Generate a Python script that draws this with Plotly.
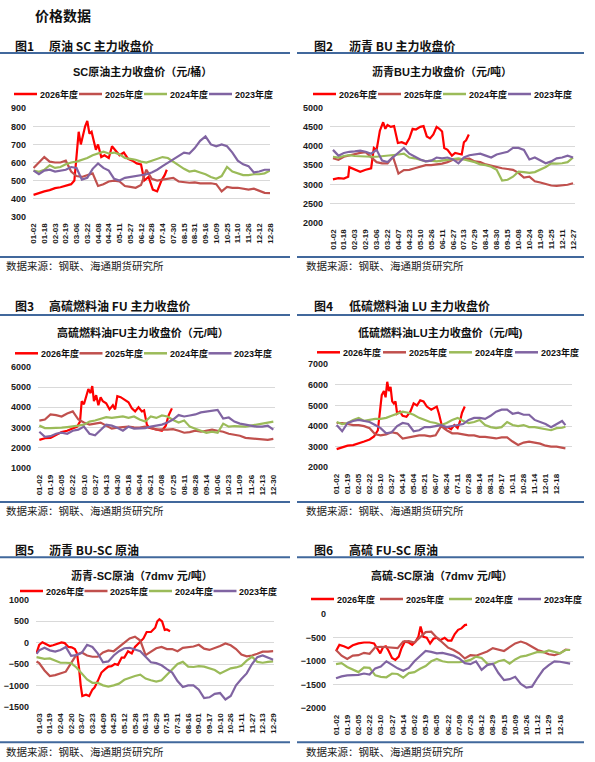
import plotly.graph_objects as go

W, H = 595, 762

years = ["2026年度", "2025年度", "2024年度", "2023年度"]
colors = ["#FF0000", "#C0504D", "#9BBB59", "#8064A2"]
source = "数据来源：钢联、海通期货研究所"

# ---------- 图1 SC原油 (元/桶) ----------
sc_ticks = ["01-02", "01-18", "02-03", "02-19", "03-06", "03-22", "04-08", "04-24", "05-11", "05-27", "06-12",
            "06-28", "07-14", "07-30", "08-15", "08-31", "09-16", "10-09", "10-25", "11-10", "11-26", "12-12", "12-28"]
sc_t = [i / 2 for i in range(45)]
sc_t26 = [0, 0.5, 1, 1.5, 2, 2.5, 3, 3.5, 3.8, 4.0, 4.2, 4.4, 4.6, 4.8, 5.0, 5.2, 5.4, 5.6, 5.8, 6.0, 6.3, 6.6, 7.0,
          7.3, 7.6, 8.0, 8.4, 8.8, 9.2, 9.6, 10.0, 10.3, 10.7, 11.1, 11.5, 11.9, 12.2, 12.4]
sc_v26 = [421, 432, 440, 447, 458, 463, 470, 480, 500, 650, 770, 700, 760, 800, 830, 760, 770, 710, 670, 700, 630, 640,
          625, 690, 670, 640, 655, 620, 610, 595, 590, 500, 520, 450, 440, 500, 530, 560]
sc_v25 = [570, 600, 630, 605, 600, 600, 610, 550, 525, 520, 530, 540, 470, 480, 495, 500, 495, 470, 465, 460, 475, 560,
          510, 500, 505, 510, 515, 495, 490, 488, 490, 485, 485, 485, 480, 440, 465, 460, 460, 455, 450, 455, 445, 432, 430]
sc_v24 = [555, 548, 560, 585, 570, 575, 590, 600, 605, 615, 625, 640, 650, 660, 650, 655, 645, 625, 620, 615, 605, 600,
          610, 620, 630, 625, 605, 590, 565, 550, 555, 545, 535, 520, 510, 525, 575, 550, 540, 530, 530, 535, 535, 540, 555]
sc_v23 = [555, 535, 555, 560, 550, 555, 560, 575, 570, 505, 515, 565, 595, 570, 555, 510, 500, 515, 520, 525, 530, 535,
          545, 560, 580, 600, 620, 640, 655, 650, 680, 720, 745, 700, 690, 700, 690, 655, 610, 590, 580, 545, 550, 560, 560]

# ---------- 图2 沥青BU (元/吨) ----------
bu_ticks = ["01-02", "01-18", "02-03", "02-19", "03-06", "03-22", "04-07", "04-23", "05-10", "05-26", "06-11",
            "06-27", "07-13", "07-29", "08-14", "08-30", "09-15", "10-08", "10-24", "11-09", "11-25", "12-11", "12-27"]
bu_t = [i / 2 for i in range(45)]
bu_t26 = [0, 0.5, 1, 1.4, 1.5, 2, 2.5, 3, 3.5, 3.75, 4.0, 4.3, 4.6, 4.8, 5.0, 5.3, 5.6, 5.95, 6.3, 6.7, 7.0, 7.3,
          7.6, 8.0, 8.3, 8.6, 8.9, 9.2, 9.5, 9.75, 10.0, 10.2, 10.5, 10.9, 11.2, 11.5, 11.8, 12.0, 12.2, 12.45]
bu_v26 = [3130, 3160, 3150, 3200, 3450, 3380, 3330, 3380, 3420, 3950, 3900, 4400, 4620, 4450, 4550, 4500, 4520, 4080,
          4100, 4050, 4200, 4450, 4430, 4500, 4520, 4250, 4200, 4300, 4500, 4450, 4380, 3950, 3900, 3750, 3820, 3800,
          3780, 4100, 4150, 4300]
bu_v25 = [3680, 3640, 3720, 3760, 3800, 3820, 3840, 3700, 3580, 3550, 3550, 3720, 3280, 3370, 3380, 3420, 3460, 3500,
          3500, 3520, 3540, 3580, 3640, 3650, 3660, 3670, 3600, 3580, 3520, 3480, 3460, 3420, 3400, 3380, 3300, 3180,
          3200, 3080, 3050, 3000, 2970, 2960, 2970, 2990, 3030]
bu_v24 = [3720, 3700, 3740, 3760, 3740, 3730, 3720, 3720, 3720, 3730, 3750, 3760, 3780, 3800, 3700, 3680, 3640, 3600,
          3620, 3600, 3620, 3640, 3650, 3680, 3650, 3620, 3580, 3520, 3500, 3460, 3380, 3100, 3120, 3200, 3330, 3320,
          3300, 3320, 3380, 3450, 3550, 3540, 3550, 3580, 3700]
bu_v23 = [3900, 3750, 3820, 3850, 3860, 3880, 3850, 3800, 3900, 3620, 3580, 3700, 3820, 3950, 3800, 3720, 3650, 3600,
          3620, 3700, 3680, 3700, 3650, 3550, 3700, 3760, 3780, 3800, 3750, 3700, 3780, 3820, 3850, 3950, 3950, 3900,
          3650, 3700, 3620, 3550, 3600, 3680, 3700, 3750, 3700]

# ---------- 图3 高硫燃料油FU (元/吨) ----------
fu_ticks = ["01-02", "01-19", "02-05", "02-22", "03-10", "03-27", "04-13", "04-30", "05-18", "06-04", "06-21",
            "07-08", "07-25", "08-11", "08-28", "09-14", "10-06", "10-23", "11-09", "11-26", "12-13", "12-30"]
fu_t = [i / 2 for i in range(43)]
fu_t26 = [0, 0.5, 1, 1.5, 2, 2.5, 3, 3.4, 3.65, 3.8, 4.0, 4.2, 4.4, 4.6, 4.75, 4.9, 5.1, 5.3, 5.5, 5.7, 6.0, 6.3,
          6.6, 6.8, 7.0, 7.3, 7.6, 8.0, 8.3, 8.6, 8.9, 9.2, 9.4, 9.65, 9.85, 10.2, 10.6, 11.0, 11.35, 11.6, 11.9]
fu_v26 = [2400, 2480, 2500, 2650, 2780, 2850, 2950, 3050, 3300, 4300, 4150, 4600, 4900, 4700, 5050, 4300, 4600, 4100,
          4500, 4300, 4200, 3900, 4100, 3900, 4550, 4500, 4400, 4250, 3950, 3800, 4000, 3800, 3850, 3150, 3000, 2950,
          2900, 2850, 3100, 3600, 3950]
fu_v25 = [3350, 3400, 3650, 3620, 3550, 3700, 3800, 3400, 3250, 3150, 3200, 3250, 3100, 2950, 3000, 3020, 3050, 3020,
          3000, 3050, 3000, 2900, 2920, 2900, 2930, 2850, 2750, 2780, 2850, 2800, 2850, 2900, 2850, 2800, 2700, 2650,
          2600, 2500, 2480, 2450, 2450, 2400, 2450]
fu_v24 = [3100, 2980, 2980, 2980, 3000, 3030, 3050, 3100, 3150, 3300, 3350, 3450, 3520, 3480, 3500, 3550, 3480, 3550,
          3400, 3300, 3550, 3480, 3600, 3550, 3380, 3250, 3350, 3050, 2950, 2850, 2750, 2800, 2750, 3200, 3050, 3080,
          3050, 3050, 3100, 3150, 3200, 3250, 3300]
fu_v23 = [2800, 2550, 2580, 2700, 2750, 2700, 2850, 2900, 3050, 2700, 2620, 2900, 3150, 3100, 3000, 2850, 3050, 2950,
          2950, 2980, 3050, 3100, 3150, 3250, 3400, 3620, 3550, 3600, 3650, 3750, 3800, 3850, 3870, 3450, 3500, 3300,
          3200, 3150, 3100, 3050, 3050, 3100, 2900]

# ---------- 图4 低硫燃料油LU (元/吨) ----------
lu_ticks = ["01-02", "01-19", "02-05", "02-22", "03-10", "03-27", "04-14", "05-04", "05-21", "06-07", "06-24",
            "07-11", "07-28", "08-14", "08-31", "09-17", "10-11", "10-28", "11-14", "12-01", "12-18"]
lu_t = [i / 2 for i in range(42)] + [20.8]
lu_t26 = [0, 0.5, 1, 1.5, 2, 2.5, 3, 3.4, 3.75, 3.95, 4.1, 4.3, 4.45, 4.6, 4.75, 4.9, 5.05, 5.2, 5.35, 5.5, 5.75,
          6.0, 6.35, 6.7, 7.0, 7.3, 7.6, 7.9, 8.2, 8.6, 8.9, 9.1, 9.3, 9.55, 9.8, 10.1, 10.4, 10.7, 11.0, 11.2, 11.4, 11.65]
lu_v26 = [2880, 2950, 3050, 3080, 3150, 3250, 3350, 3500, 3800, 4700, 5500, 5700, 5400, 6150, 5700, 5900, 5200, 5100,
          5200, 4600, 4700, 4500, 4450, 4700, 5100, 5000, 5250, 5200, 4950, 4800, 4900, 4950, 4600, 4050, 3900, 3950,
          3850, 4050, 3900, 4200, 4650, 4950]
lu_v25 = [4150, 4150, 4100, 4050, 4050, 4000, 3900, 3600, 3550, 3600, 3700, 3650, 3400, 3450, 3500, 3550, 3550, 3500,
          3550, 4000, 3800, 3650, 3650, 3600, 3550, 3550, 3480, 3480, 3450, 3400, 3450, 3450, 3250, 3080, 3200, 3250,
          3200, 3150, 3050, 3000, 3000, 2950, 2920]
lu_v24 = [4200, 4100, 4150, 4300, 4400, 4250, 4300, 4350, 4350, 4400, 4500, 4600, 4700, 4650, 4550, 4400, 4300, 4200,
          4150, 4050, 4150, 4300, 4400, 4250, 4150, 4200, 4300, 4050, 3950, 3900, 3950, 4200, 4050, 4000, 4050, 3950,
          3950, 3900, 3850, 3800, 3900, 3920, 3970]
lu_v23 = [4050, 3750, 4150, 4250, 4300, 4250, 4200, 4050, 3900, 3650, 3700, 4000, 4150, 4100, 3750, 3800, 3950, 3950,
          4000, 4050, 3950, 4000, 4050, 4100, 4300, 4400, 4400, 4350, 4500, 4700, 4800, 4800, 4600, 4650, 4550, 4550,
          4300, 4200, 4100, 3950, 4100, 4250, 4050]

# ---------- 图5 沥青-SC原油 (7dmv 元/吨) ----------
busc_ticks = ["01-03", "01-19", "02-04", "02-20", "03-07", "03-23", "04-09", "04-25", "05-12", "05-28", "06-13",
              "06-29", "07-15", "07-31", "08-16", "09-01", "09-17", "10-10", "10-26", "11-11", "11-27", "12-13", "12-29"]
busc_t = [-0.25] + [i / 2 for i in range(45)]
busc_t26 = [-0.25, 0, 0.3, 0.7, 1.0, 1.3, 1.7, 2.1, 2.4, 2.75, 3.05, 3.35, 3.55, 3.75, 3.9, 4.05, 4.4, 4.7, 5.0, 5.2,
            5.5, 5.85, 6.2, 6.5, 6.8, 7.1, 7.4, 7.75, 8.0, 8.35, 8.7, 9.0, 9.4, 9.8, 10.1, 10.5, 10.9, 11.1, 11.3,
            11.55, 11.8, 12.0, 12.3]
busc_v26 = [-250, -50, 10, -50, -80, -60, -20, 5, -10, -100, -110, -150, -250, -600, -1000, -1250, -1220, -1250,
            -1100, -1050, -900, -700, -620, -560, -550, -500, -520, -350, -350, -200, -250, -100, 0, 100, 250, 250,
            350, 500, 550, 500, 300, 310, 270]
busc_v25 = [-440, -480, -650, -780, -760, -720, -680, -480, -280, -230, -300, -330, -330, -230, -180, -200, -100, -20,
            100, 140, 50, -290, -200, -130, -100, -150, -150, -200, -120, -100, -90, -50, -140, -170, -130, -80, -20,
            -60, -150, -280, -320, -300, -260, -210, -210, -200]
busc_v24 = [-340, -350, -380, -370, -420, -470, -470, -480, -580, -720, -860, -940, -940, -1000, -1030, -1000, -960,
            -870, -820, -780, -750, -840, -880, -910, -880, -760, -620, -500, -450, -560, -570, -550, -560, -600, -640,
            -720, -650, -600, -580, -540, -420, -330, -450, -470, -450, -440]
busc_v23 = [-260, -180, -120, -180, -210, -170, -100, -310, -290, -240, -50, -100, -250, -460, -440, -300, -200, -130,
            -120, -160, -200, -330, -460, -480, -530, -620, -700, -900, -1040, -1000, -1000, -1100, -1300, -1280,
            -1200, -1180, -1330, -1250, -1000, -850, -720, -500, -340, -300, -350, -400]

# ---------- 图6 高硫-SC原油 (7dmv 元/吨) ----------
fusc_ticks = ["01-02", "01-19", "02-05", "02-22", "03-10", "03-27", "04-14", "05-02", "05-19", "06-05", "06-22",
              "07-09", "07-26", "08-12", "08-29", "09-15", "10-09", "10-26", "11-12", "11-29", "12-16"]
fusc_t = [i / 2 for i in range(42)] + [20.9]
fusc_t26 = [0, 0.3, 0.7, 1.1, 1.5, 2.0, 2.5, 3.0, 3.4, 3.7, 3.95, 4.2, 4.45, 4.7, 5.0, 5.3, 5.6, 5.85, 6.15, 6.5,
            6.8, 7.1, 7.35, 7.55, 7.8, 8.1, 8.4, 8.7, 9.0, 9.3, 9.7, 10.0, 10.3, 10.6, 10.9, 11.2, 11.5, 11.7]
fusc_v26 = [-780, -650, -680, -720, -660, -620, -600, -600, -620, -720, -830, -700, -680, -780, -930, -970, -900,
            -720, -580, -600, -650, -580, -480, -260, -480, -500, -620, -520, -500, -550, -500, -560, -560, -420,
            -330, -300, -230, -220]
fusc_v25 = [-760, -880, -950, -880, -870, -820, -840, -700, -690, -700, -720, -720, -580, -570, -600, -480, -380,
            -370, -500, -600, -710, -760, -830, -940, -870, -880, -840, -790, -720, -750, -780, -700, -620, -580,
            -620, -690, -760, -800, -850, -870, -830, -750, -760]
fusc_v24 = [-1060, -1040, -1120, -1180, -1230, -1130, -1140, -1300, -1330, -1340, -1260, -1270, -1350, -1250, -1230,
            -1160, -1100, -1000, -950, -1000, -1020, -1020, -1020, -1000, -970, -900, -930, -1050, -1060, -1000, -970,
            -1050, -960, -900, -880, -840, -800, -810, -770, -800, -830, -760, -760]
fusc_v23 = [-1360, -1320, -1300, -1300, -1290, -1260, -1280, -1150, -1110, -1000, -1070, -1150, -1200, -1140, -1000,
            -890, -780, -800, -830, -820, -850, -880, -940, -1040, -1060, -1000, -1180, -1080, -1050, -1250, -1400,
            -1380, -1330, -1480, -1560, -1540, -1350, -1180, -1080, -1000, -1010, -1030, -1050]

# ---------- layout of the six panels (pixel positions on the page) ----------
panels = [
    dict(num="图1", name="原油 SC 主力收盘价", title="SC原油主力收盘价（元/桶）", ticks=sc_ticks,
         series=[(sc_t26, sc_v26), (sc_t, sc_v25), (sc_t, sc_v24), (sc_t, sc_v23)],
         col=0, row=0, px=(33, 270), py=(108.3, 216.7), xr=[-0.05, 22.0], yr=[300, 900], dt=100,
         tx=142, ty=71, lx=14, ly=94, ls=65),
    dict(num="图2", name="沥青 BU 主力收盘价", title="沥青BU主力收盘价（元/吨）", ticks=bu_ticks,
         series=[(bu_t26, bu_v26), (bu_t, bu_v25), (bu_t, bu_v24), (bu_t, bu_v23)],
         col=1, row=0, px=(330, 575), py=(107.7, 222.7), xr=[-0.27, 22.18], yr=[2000, 5000], dt=500,
         tx=442, ty=71, lx=313, ly=94, ls=65),
    dict(num="图3", name="高硫燃料油 FU 主力收盘价", title="高硫燃料油FU主力收盘价（元/吨）", ticks=fu_ticks,
         series=[(fu_t26, fu_v26), (fu_t, fu_v25), (fu_t, fu_v24), (fu_t, fu_v23)],
         col=0, row=1, px=(38, 275), py=(366.7, 468.3), xr=[-0.12, 21.15], yr=[1000, 6000], dt=1000,
         tx=143, ty=332.3, lx=15, ly=353.3, ls=64.5),
    dict(num="图4", name="低硫燃料油 LU 主力收盘价", title="低硫燃料油LU主力收盘价（元/吨)", ticks=lu_ticks,
         series=[(lu_t26, lu_v26), (lu_t, lu_v25), (lu_t, lu_v24), (lu_t, lu_v23)],
         col=1, row=1, px=(335, 572), py=(364.3, 467.3), xr=[-0.15, 21.4], yr=[2000, 7000], dt=1000,
         tx=440, ty=332.3, lx=317, ly=352.3, ls=66),
    dict(num="图5", name="沥青 BU-SC 原油", title="沥青-SC原油（7dmv 元/吨）", ticks=busc_ticks,
         series=[(busc_t26, busc_v26), (busc_t, busc_v25), (busc_t, busc_v24), (busc_t, busc_v23)],
         col=0, row=2, px=(36, 273.5), py=(600, 706.7), xr=[-0.3, 22.02], yr=[-1500, 1000], dt=500,
         tx=142, ty=575, lx=20, ly=591, ls=64.5),
    dict(num="图6", name="高硫 FU-SC 原油", title="高硫-SC原油（7dmv 元/吨）", ticks=fusc_ticks,
         series=[(fusc_t26, fusc_v26), (fusc_t, fusc_v25), (fusc_t, fusc_v24), (fusc_t, fusc_v23)],
         col=1, row=2, px=(333, 573), py=(614.3, 708.3), xr=[-0.27, 21.16], yr=[-2000, 0], dt=500,
         tx=442, ty=575, lx=311, ly=599, ls=69),
]
rows = [dict(head=45, top=53, bottom=257, src=265),
        dict(head=305.7, top=315, bottom=502, src=510),
        dict(head=549.3, top=557.3, bottom=742.3, src=751.7)]
cols = [dict(x0=0, x1=290, num=13, name=47, src=4),
        dict(x0=297, x1=584, num=312, name=347, src=304)]

CJK = "Noto Sans CJK SC"
NUM = "Liberation Sans, Arial, Noto Sans CJK SC"
RULE = "#41689C"


def fx(p):
    return p / W


def fy(p):
    return 1 - p / H


fig = go.Figure()
annotations, shapes = [], []


def text(x, y, s, size, anchor="left", bold=False, family=CJK, color="#111"):
    annotations.append(dict(x=fx(x), y=fy(y), xref="paper", yref="paper", text=s, showarrow=False,
                            xanchor=anchor, yanchor="middle",
                            font=dict(family=family, size=size, color=color, weight="bold" if bold else "normal")))


def rule(x0, x1, y):
    shapes.append(dict(type="line", xref="paper", yref="paper", x0=fx(x0), x1=fx(x1), y0=fy(y), y1=fy(y),
                       line=dict(color=RULE, width=2)))


text(33, 15, "价格数据", 14, bold=True)

for i, p in enumerate(panels, start=1):
    r, c = rows[p["row"]], cols[p["col"]]
    xa, ya = f"x{i}", f"y{i}"
    for (t, v), yr_name, colr in zip(p["series"], years, colors):
        fig.add_trace(go.Scatter(x=t, y=v, mode="lines", name=yr_name, showlegend=False,
                                 line=dict(color=colr, width=2.2), xaxis=xa, yaxis=ya))
    fig.update_layout(**{
        f"xaxis{i}": dict(domain=[fx(p["px"][0]), fx(p["px"][1])], anchor=ya, range=p["xr"], automargin=False,
                          tickvals=list(range(len(p["ticks"]))), ticktext=p["ticks"], tickangle=-90,
                          showgrid=False, zeroline=False, showline=False, ticks="", ticklabelstandoff=4,
                          tickfont=dict(family=NUM, size=8, color="#1a1a1a", weight="bold")),
        f"yaxis{i}": dict(domain=[fy(p["py"][1]), fy(p["py"][0])], anchor=xa, range=p["yr"], dtick=p["dt"],
                          automargin=False, showgrid=True, gridcolor="#D9D9D9", gridwidth=1, zeroline=False,
                          showline=False, ticks="", ticklabelstandoff=6,
                          tickfont=dict(family=NUM, size=9, color="#1a1a1a", weight="bold")),
    })
    # headings, rules and source line
    text(c["num"], r["head"], p["num"], 12, bold=True)
    text(c["name"], r["head"], p["name"], 12, bold=True)
    rule(c["x0"], c["x1"], r["top"])
    rule(c["x0"], c["x1"], r["bottom"])
    text(c["src"], r["src"], source, 10.5, color="#222")
    text(p["tx"], p["ty"], p["title"], 11, anchor="center", bold=True, family=NUM)
    # legend row
    for k, (yr_name, colr) in enumerate(zip(years, colors)):
        x0 = p["lx"] + k * p["ls"]
        shapes.append(dict(type="line", xref="paper", yref="paper", x0=fx(x0), x1=fx(x0 + 23),
                           y0=fy(p["ly"]), y1=fy(p["ly"]), line=dict(color=colr, width=2.5)))
        text(x0 + 23.5, p["ly"], yr_name, 9, bold=True, family=NUM)

fig.update_layout(template="none", width=W, height=H, margin=dict(l=0, r=0, t=0, b=0),
                  paper_bgcolor="white", plot_bgcolor="white", hovermode=False,
                  annotations=annotations, shapes=shapes)

# the page's default body margin would push the figure 8px right and down
fig.write_html("out.html", config={"displayModeBar": False},
               post_script="document.body.style.margin = '0';")
